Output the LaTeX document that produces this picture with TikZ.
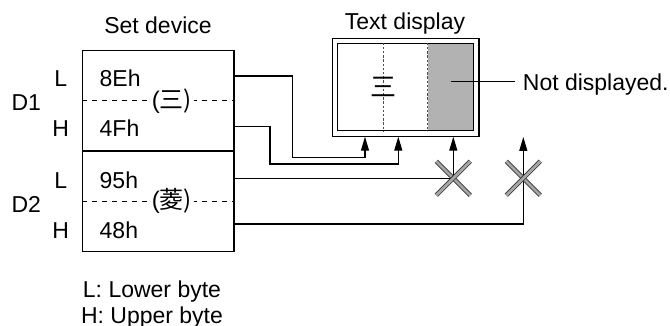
\documentclass[tikz,border=0pt]{standalone}
\usepackage{fontspec}
\setmainfont{Liberation Sans}
\newfontfamily\cjk{Noto Sans CJK JP}
\usetikzlibrary{arrows.meta}

\begin{document}
\begin{tikzpicture}[x=0.5pt, y=-0.5pt, >={Triangle[length=7pt,width=4pt]}]
  \tikzset{
    txt/.style={font=\fontsize{11.5}{13}\selectfont, inner sep=0pt,
      text height=8.2pt, text depth=0pt},
    byte/.style={txt, anchor=west},
    cell/.style={rectangle, draw, line width=0.6pt, minimum width=75.6pt,
      inner sep=0pt},
    frame/.style={rectangle, draw, line width=0.6pt, inner sep=0pt},
    split/.style={dash pattern=on 2.5pt off 2.5pt, line width=0.5pt},
    kanji/.style={font=\fontsize{12}{13}\selectfont, fill=white,
      inner xsep=1pt, inner ysep=0pt},
    sep/.style={dash pattern=on 1.2pt off 0.9pt, line width=0.5pt, draw=black!70},
    wire/.style={line width=0.6pt},
    signal/.style={->, line width=0.6pt},
    cross/.style={draw=black!80, double=black!35, double distance=1.4pt,
      line width=0.4pt}
  }
  \useasboundingbox (0,0) rectangle (670,326);

  \node[txt] (settitle) at (158,25.5) {Set device};
  \node[cell, minimum height=50.15pt] (D1) at (158.4,100.85) {};
  \node[cell, minimum height=50.35pt] (D2) at (158.4,201.35) {};

  \node[txt] (D1lab) at (26.3,102.5) {D1};
  \node[txt] (D2lab) at (26.3,204.2) {D2};
  \node[txt] (L1) at (60.7,78) {L};
  \node[txt] (H1) at (60.7,128) {H};
  \node[txt] (L2) at (60.7,180) {L};
  \node[txt] (H2) at (60.7,230) {H};

  \node[byte] (v8E) at (99.3,78) {8Eh};
  \node[byte] (v4F) at (99.3,128) {4Fh};
  \node[byte] (v95) at (99.3,180) {95h};
  \node[byte] (v48) at (99.3,230) {48h};

  \draw[split] (D1.west) -- (D1.east);
  \draw[split] (D2.west) -- (D2.east);
  \node[kanji] (k1) at (172,100.8) {(\cjk 三)};
  \node[kanji] (k2) at (172,201.3) {(\cjk 菱)};

  \node[txt] (legL) at (152,288.8) {L: Lower byte};
  \node[txt] (legH) at (152,315.3) {H: Upper byte};

  \node[txt] (disptitle) at (405,21.7) {Text display};
  \node[frame, minimum width=73.35pt, minimum height=49.2pt] (outer) at (405.7,87.5) {};
  \node[fill=black!30, minimum width=22.5pt, minimum height=43.7pt,
    inner sep=0pt] (hidden) at (450.8,87) {};
  \node[frame, minimum width=67.8pt, minimum height=43.7pt] (screen) at (405.5,87) {};
  \coordinate (col1) at (383.3,87);
  \draw[sep] (col1 |- screen.north) -- (col1 |- screen.south);
  \draw[sep] (hidden.north west) -- (hidden.south west);
  \node[font=\cjk\fontsize{13}{14}\selectfont, inner sep=0pt] (glyph) at (383.3,86.7) {三};

  \node[txt, anchor=west] (notdisp) at (522.5,82) {Not displayed.};
  \coordinate (lead) at (515,81.7);
  \draw[wire] (hidden.center |- lead) -- (lead);

  \coordinate (o1) at (234,76);
  \coordinate (o2) at (234,126.7);
  \coordinate (o3) at (234,178.3);
  \coordinate (o4) at (234,224);
  \coordinate (in1) at (365,136.7);
  \coordinate (in2) at (398.3,136.7);
  \coordinate (in3) at (453.3,136.7);
  \coordinate (in4) at (523.3,137);
  \coordinate (x1) at (453.3,178.3);
  \coordinate (x2) at (523.3,178.3);

  \draw[signal] (o1) -| (292.7,157.7) -| (in1);
  \draw[signal] (o2) -| (270,164) -| (in2);
  \draw[wire] (o3) -- (x1);
  \draw[signal] (x1) -- (in3);
  \draw[signal] (o4) -| (in4);

  \draw[cross] ([shift={(-17,-17)}]x1) -- ([shift={(17,17)}]x1);
  \draw[cross] ([shift={(-17,17)}]x1) -- ([shift={(17,-17)}]x1);
  \draw[cross] ([shift={(-17,-17)}]x2) -- ([shift={(17,17)}]x2);
  \draw[cross] ([shift={(-17,17)}]x2) -- ([shift={(17,-17)}]x2);
\end{tikzpicture}
\end{document}
